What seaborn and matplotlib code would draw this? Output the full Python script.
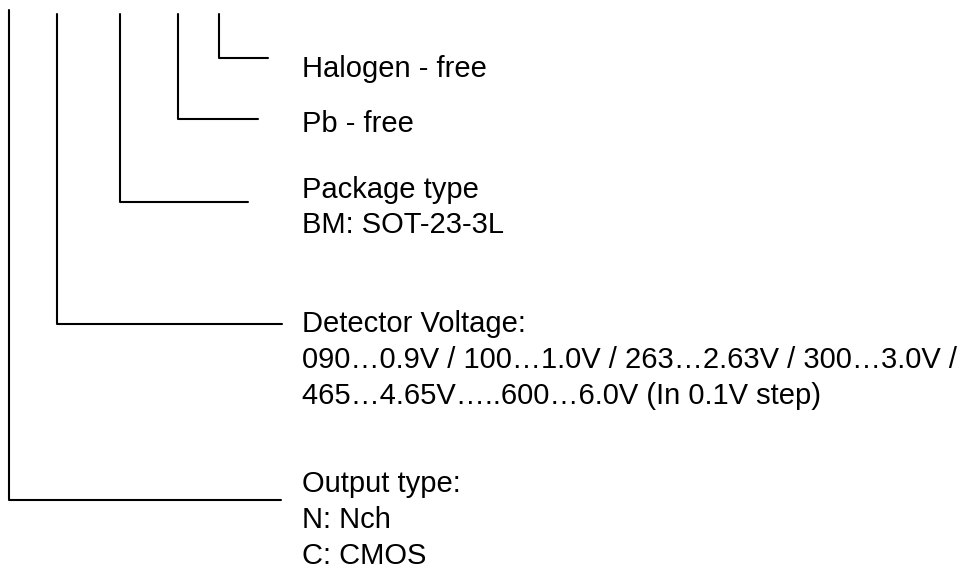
import matplotlib
matplotlib.use('Agg')
import seaborn as sns
import pandas as pd
from matplotlib import pyplot as plt

# bracket lines: vertical at x, from top down to the corner y, then right to end x
bracket_x = [9, 57, 120, 178, 219]
bracket_top = [10, 14, 14, 14, 14]
bracket_y = [500, 324, 202, 119, 58]
bracket_end = [281, 282, 248, 258, 268]

# text lines (baseline y in pixels)
labels = [
    'Halogen - free',
    'Pb - free',
    'Package type',
    'BM: SOT-23-3L',
    'Detector Voltage:',
    '090\u20260.9V / 100\u20261.0V / 263\u20262.63V / 300\u20263.0V /',
    '465\u20264.65V\u2026..600\u20266.0V (In 0.1V step)',
    'Output type:',
    'N: Nch',
    'C: CMOS',
]
label_y = [77, 132, 198, 233, 332, 368, 404, 492, 528, 564]
text_x = 302

sns.set_style('white')
plt.rcParams['font.family'] = ['Liberation Sans', 'DejaVu Sans']

fig = plt.figure(figsize=(9.68, 5.76), dpi=100)
ax = fig.add_axes([0, 0, 1, 1])

for i in range(len(bracket_x)):
    seg = pd.DataFrame({
        'x': [bracket_x[i], bracket_x[i], bracket_end[i]],
        'y': [bracket_top[i], bracket_y[i], bracket_y[i]],
    })
    sns.lineplot(data=seg, x='x', y='y', sort=False, estimator=None,
                 color='black', linewidth=1.5, ax=ax)

for lab, y in zip(labels, label_y):
    ax.text(text_x, y, lab, fontsize=21, color='black', va='baseline', ha='left')

ax.set_xlim(0, 968)
ax.set_ylim(576, 0)
ax.axis('off')

fig.savefig('out.png', dpi=100)
